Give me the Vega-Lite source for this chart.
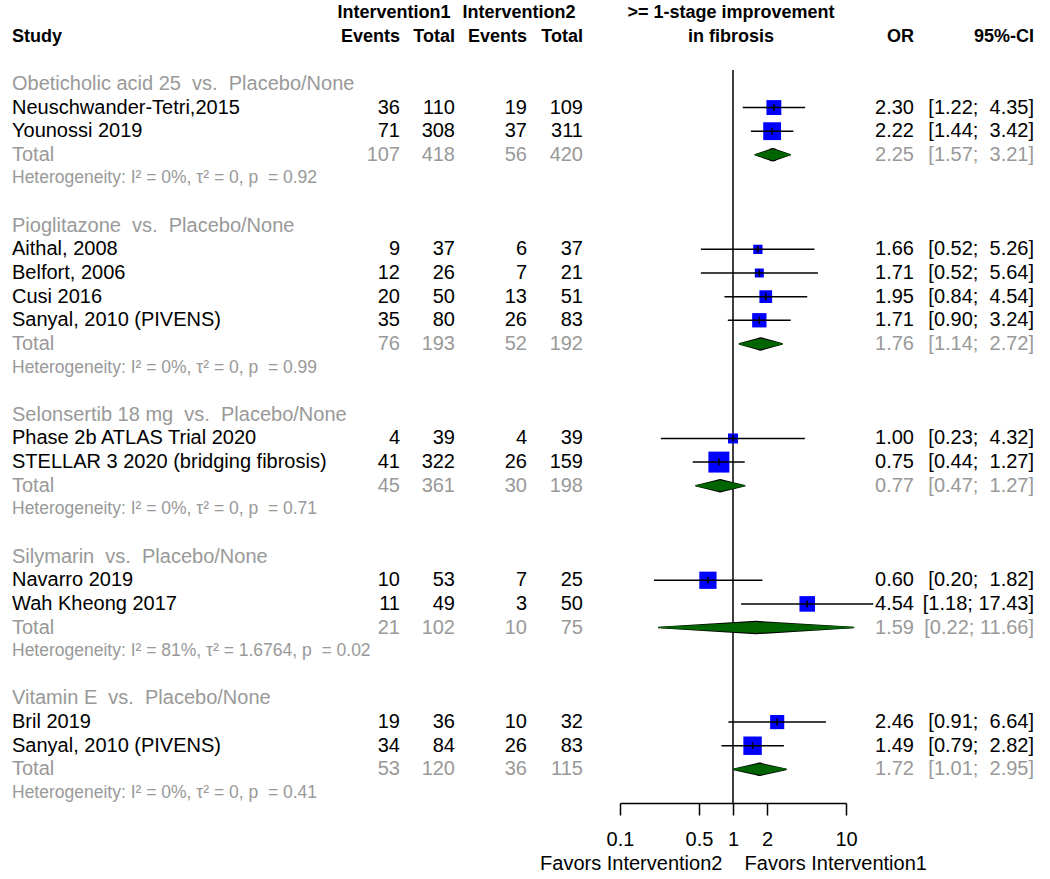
{
  "$schema": "https://vega.github.io/schema/vega-lite/v6.json",
  "width": 1050,
  "height": 803,
  "autosize": {"type": "none"},
  "padding": {"left": 0, "top": 0, "right": 0, "bottom": 76},
  "background": "white",
  "config": {
    "view": {"stroke": null},
    "text": {"font": "Liberation Sans"},
    "axis": {"labelFont": "Liberation Sans", "titleFont": "Liberation Sans"}
  },
  "datasets": {
    "rows": [
      {"id": "obet_head", "kind": "heading", "label": "Obeticholic acid 25\u00a0 vs.\u00a0 Placebo/None"},
      {"id": "obet_1", "kind": "study", "label": "Neuschwander-Tetri,2015", "e1": 36, "n1": 110, "e2": 19, "n2": 109, "or": 2.30, "lo": 1.22, "hi": 4.35, "w": 41},
      {"id": "obet_2", "kind": "study", "label": "Younossi 2019", "e1": 71, "n1": 308, "e2": 37, "n2": 311, "or": 2.22, "lo": 1.44, "hi": 3.42, "w": 59},
      {"id": "obet_tot", "kind": "total", "label": "Total", "e1": 107, "n1": 418, "e2": 56, "n2": 420, "or": 2.25, "lo": 1.57, "hi": 3.21},
      {"id": "obet_het", "kind": "het", "label": "Heterogeneity: I² = 0%, τ² = 0, p\u00a0 = 0.92"},
      {"id": "pio_head", "kind": "heading", "label": "Pioglitazone\u00a0 vs.\u00a0 Placebo/None"},
      {"id": "pio_1", "kind": "study", "label": "Aithal, 2008", "e1": 9, "n1": 37, "e2": 6, "n2": 37, "or": 1.66, "lo": 0.52, "hi": 5.26, "w": 16},
      {"id": "pio_2", "kind": "study", "label": "Belfort, 2006", "e1": 12, "n1": 26, "e2": 7, "n2": 21, "or": 1.71, "lo": 0.52, "hi": 5.64, "w": 15},
      {"id": "pio_3", "kind": "study", "label": "Cusi 2016", "e1": 20, "n1": 50, "e2": 13, "n2": 51, "or": 1.95, "lo": 0.84, "hi": 4.54, "w": 30},
      {"id": "pio_4", "kind": "study", "label": "Sanyal, 2010 (PIVENS)", "e1": 35, "n1": 80, "e2": 26, "n2": 83, "or": 1.71, "lo": 0.90, "hi": 3.24, "w": 38},
      {"id": "pio_tot", "kind": "total", "label": "Total", "e1": 76, "n1": 193, "e2": 52, "n2": 192, "or": 1.76, "lo": 1.14, "hi": 2.72},
      {"id": "pio_het", "kind": "het", "label": "Heterogeneity: I² = 0%, τ² = 0, p\u00a0 = 0.99"},
      {"id": "sel_head", "kind": "heading", "label": "Selonsertib 18 mg\u00a0 vs.\u00a0 Placebo/None"},
      {"id": "sel_1", "kind": "study", "label": "Phase 2b ATLAS Trial 2020", "e1": 4, "n1": 39, "e2": 4, "n2": 39, "or": 1.00, "lo": 0.23, "hi": 4.32, "w": 18.5},
      {"id": "sel_2", "kind": "study", "label": "STELLAR 3 2020 (bridging fibrosis)", "e1": 41, "n1": 322, "e2": 26, "n2": 159, "or": 0.75, "lo": 0.44, "hi": 1.27, "w": 81.5},
      {"id": "sel_tot", "kind": "total", "label": "Total", "e1": 45, "n1": 361, "e2": 30, "n2": 198, "or": 0.77, "lo": 0.47, "hi": 1.27},
      {"id": "sel_het", "kind": "het", "label": "Heterogeneity: I² = 0%, τ² = 0, p\u00a0 = 0.71"},
      {"id": "sil_head", "kind": "heading", "label": "Silymarin\u00a0 vs.\u00a0 Placebo/None"},
      {"id": "sil_1", "kind": "study", "label": "Navarro 2019", "e1": 10, "n1": 53, "e2": 7, "n2": 25, "or": 0.60, "lo": 0.20, "hi": 1.82, "w": 55},
      {"id": "sil_2", "kind": "study", "label": "Wah Kheong 2017", "e1": 11, "n1": 49, "e2": 3, "n2": 50, "or": 4.54, "lo": 1.18, "hi": 17.43, "w": 45},
      {"id": "sil_tot", "kind": "total", "label": "Total", "e1": 21, "n1": 102, "e2": 10, "n2": 75, "or": 1.59, "lo": 0.22, "hi": 11.66},
      {"id": "sil_het", "kind": "het", "label": "Heterogeneity: I² = 81%, τ² = 1.6764, p\u00a0 = 0.02"},
      {"id": "vit_head", "kind": "heading", "label": "Vitamin E\u00a0 vs.\u00a0 Placebo/None"},
      {"id": "vit_1", "kind": "study", "label": "Bril 2019", "e1": 19, "n1": 36, "e2": 10, "n2": 32, "or": 2.46, "lo": 0.91, "hi": 6.64, "w": 37},
      {"id": "vit_2", "kind": "study", "label": "Sanyal, 2010 (PIVENS)", "e1": 34, "n1": 84, "e2": 26, "n2": 83, "or": 1.49, "lo": 0.79, "hi": 2.82, "w": 63},
      {"id": "vit_tot", "kind": "total", "label": "Total", "e1": 53, "n1": 120, "e2": 36, "n2": 115, "or": 1.72, "lo": 1.01, "hi": 2.95},
      {"id": "vit_het", "kind": "het", "label": "Heterogeneity: I² = 0%, τ² = 0, p\u00a0 = 0.41"}
    ],
    "headers": [
      {"id": "hdr1", "key": "grp1", "text": "Intervention1"},
      {"id": "hdr1", "key": "grp2", "text": "Intervention2"},
      {"id": "hdr1", "key": "forest", "text": ">= 1-stage improvement"},
      {"id": "hdr2", "key": "label", "text": "Study"},
      {"id": "hdr2", "key": "e1", "text": "Events"},
      {"id": "hdr2", "key": "n1", "text": "Total"},
      {"id": "hdr2", "key": "e2", "text": "Events"},
      {"id": "hdr2", "key": "n2", "text": "Total"},
      {"id": "hdr2", "key": "forest", "text": "in fibrosis"},
      {"id": "hdr2", "key": "ortx", "text": "OR"},
      {"id": "hdr2", "key": "ci", "text": "95%-CI"}
    ]
  },
  "data": {"name": "rows"},
  "encoding": {
    "y": {
      "field": "id", "type": "nominal",
      "scale": {
        "type": "point",
        "padding": 0,
        "domain": ["hdr1","hdr2","blank0","obet_head","obet_1","obet_2","obet_tot","obet_het","blank1","pio_head","pio_1","pio_2","pio_3","pio_4","pio_tot","pio_het","blank2","sel_head","sel_1","sel_2","sel_tot","sel_het","blank3","sil_head","sil_1","sil_2","sil_tot","sil_het","blank4","vit_head","vit_1","vit_2","vit_tot","vit_het"],
        "range": [13, 793]
      },
      "axis": null
    }
  },
  "layer": [
    {
      "layer": [
        {
          "transform": [
            {"filter": "datum.kind !== 'het'"},
            {"fold": ["label"], "as": ["key", "val"]},
            {"calculate": "indexof(['label','grp1','e1','n1','grp2','e2','n2','forest','ortx','ci'], datum.key)", "as": "col"}
          ],
          "mark": {"type": "text", "align": "left", "baseline": "middle", "fontSize": 20, "font": "Liberation Sans"},
          "encoding": {
            "x": {"field": "col", "type": "quantitative", "scale": {"type": "linear", "domain": [0,1,2,3,4,5,6,7,8,9], "range": [12,394,400,455,519,527,583,731,914,1034], "zero": false, "nice": false}, "axis": null},
            "text": {"field": "val"},
            "color": {"condition": {"test": "datum.kind === 'study'", "value": "black"}, "value": "#999999"}
          }
        },
        {
          "transform": [
            {"filter": "datum.kind === 'het'"},
            {"fold": ["label"], "as": ["key", "val"]},
            {"calculate": "indexof(['label','grp1','e1','n1','grp2','e2','n2','forest','ortx','ci'], datum.key)", "as": "col"}
          ],
          "mark": {"type": "text", "align": "left", "baseline": "middle", "fontSize": 17.5, "font": "Liberation Sans", "color": "#999999"},
          "encoding": {
            "x": {"field": "col", "type": "quantitative", "scale": {"type": "linear", "domain": [0,1,2,3,4,5,6,7,8,9], "range": [12,394,400,455,519,527,583,731,914,1034], "zero": false, "nice": false}, "axis": null},
            "text": {"field": "val"}
          }
        },
        {
          "transform": [
            {"filter": "datum.kind === 'study' || datum.kind === 'total'"},
            {"calculate": "format(datum.or, '.2f')", "as": "ortx"},
            {"calculate": "'[' + format(datum.lo, '.2f') + ';' + (datum.hi < 10 ? '\u00a0\u00a0' : '\u00a0') + format(datum.hi, '.2f') + ']'", "as": "ci"},
            {"fold": ["e1", "n1", "e2", "n2", "ortx", "ci"], "as": ["key", "val"]},
            {"calculate": "indexof(['label','grp1','e1','n1','grp2','e2','n2','forest','ortx','ci'], datum.key)", "as": "col"}
          ],
          "mark": {"type": "text", "align": "right", "baseline": "middle", "fontSize": 20, "font": "Liberation Sans"},
          "encoding": {
            "x": {"field": "col", "type": "quantitative", "scale": {"type": "linear", "domain": [0,1,2,3,4,5,6,7,8,9], "range": [12,394,400,455,519,527,583,731,914,1034], "zero": false, "nice": false}, "axis": null},
            "text": {"field": "val"},
            "color": {"condition": {"test": "datum.kind === 'study'", "value": "black"}, "value": "#999999"}
          }
        },
        {
          "data": {"name": "headers"},
          "transform": [
            {"filter": "datum.key === 'label'"},
            {"calculate": "indexof(['label','grp1','e1','n1','grp2','e2','n2','forest','ortx','ci'], datum.key)", "as": "col"}
          ],
          "mark": {"type": "text", "align": "left", "baseline": "middle", "fontSize": 18, "fontWeight": "bold", "font": "Liberation Sans", "color": "black"},
          "encoding": {
            "x": {"field": "col", "type": "quantitative", "scale": {"type": "linear", "domain": [0,1,2,3,4,5,6,7,8,9], "range": [12,394,400,455,519,527,583,731,914,1034], "zero": false, "nice": false}, "axis": null},
            "text": {"field": "text"}
          }
        },
        {
          "data": {"name": "headers"},
          "transform": [
            {"filter": "datum.key === 'grp1' || datum.key === 'grp2' || datum.key === 'forest'"},
            {"calculate": "indexof(['label','grp1','e1','n1','grp2','e2','n2','forest','ortx','ci'], datum.key)", "as": "col"}
          ],
          "mark": {"type": "text", "align": "center", "baseline": "middle", "fontSize": 18, "fontWeight": "bold", "font": "Liberation Sans", "color": "black"},
          "encoding": {
            "x": {"field": "col", "type": "quantitative", "scale": {"type": "linear", "domain": [0,1,2,3,4,5,6,7,8,9], "range": [12,394,400,455,519,527,583,731,914,1034], "zero": false, "nice": false}, "axis": null},
            "text": {"field": "text"}
          }
        },
        {
          "data": {"name": "headers"},
          "transform": [
            {"filter": "datum.key !== 'label' && datum.key !== 'grp1' && datum.key !== 'grp2' && datum.key !== 'forest'"},
            {"calculate": "indexof(['label','grp1','e1','n1','grp2','e2','n2','forest','ortx','ci'], datum.key)", "as": "col"}
          ],
          "mark": {"type": "text", "align": "right", "baseline": "middle", "fontSize": 18, "fontWeight": "bold", "font": "Liberation Sans", "color": "black"},
          "encoding": {
            "x": {"field": "col", "type": "quantitative", "scale": {"type": "linear", "domain": [0,1,2,3,4,5,6,7,8,9], "range": [12,394,400,455,519,527,583,731,914,1034], "zero": false, "nice": false}, "axis": null},
            "text": {"field": "text"}
          }
        }
      ]
    },
    {
      "data": {"values": [{}]},
      "mark": {"type": "rule", "color": "black", "strokeWidth": 1.5, "yOffset": -14, "y2Offset": 10},
      "encoding": {
        "x": {"datum": 1, "type": "quantitative", "scale": {"type": "log", "domain": [0.1, 10], "range": [620, 846], "nice": false}, "axis": null},
        "y": {"datum": "obet_head", "type": "nominal"},
        "y2": {"datum": "vit_het"}
      }
    },
    {
      "transform": [{"filter": "datum.kind === 'study'"}],
      "mark": {"type": "point", "shape": "square", "filled": true, "color": "#0000ff", "opacity": 1, "strokeWidth": 0},
      "encoding": {
        "x": {"field": "or", "type": "quantitative", "scale": {"type": "log", "domain": [0.1, 10], "range": [620, 846], "nice": false}, "axis": null},
        "size": {"field": "w", "type": "quantitative", "scale": {"domain": [0, 100], "range": [0, 540]}, "legend": null}
      }
    },
    {
      "transform": [{"filter": "datum.kind === 'study'"}],
      "mark": {"type": "rule", "color": "black", "strokeWidth": 1.5},
      "encoding": {
        "x": {
          "field": "lo", "type": "quantitative",
          "scale": {"type": "log", "domain": [0.1, 10], "range": [620, 846], "nice": false},
          "axis": {
            "orient": "bottom",
            "values": [0.1, 0.5, 1, 2, 10],
            "labelExpr": "datum.value + ''",
            "grid": false,
            "tickSize": 12, "tickWidth": 1.5, "tickColor": "black",
            "domainColor": "black", "domainWidth": 1.5,
            "labelFontSize": 20, "labelColor": "black", "labelPadding": 14,
            "labelFlush": false, "labelOverlap": false,
            "title": "Favors Intervention2\u00a0\u00a0\u00a0\u00a0Favors Intervention1",
            "titleFontSize": 20, "titleFontWeight": "normal", "titleColor": "black", "titlePadding": 4
          }
        },
        "x2": {"field": "hi"}
      }
    },
    {
      "transform": [{"filter": "datum.kind === 'study'"}],
      "mark": {"type": "tick", "color": "black", "size": 7, "thickness": 1.5, "opacity": 1},
      "encoding": {
        "x": {"field": "or", "type": "quantitative", "scale": {"type": "log", "domain": [0.1, 10], "range": [620, 846], "nice": false}, "axis": null}
      }
    },
    {
      "transform": [
        {"filter": "datum.kind === 'total'"},
        {"fold": ["lo", "or", "hi"], "as": ["pt", "val"]},
        {"calculate": "datum.pt === 'or' ? 1 : 0", "as": "bulge"}
      ],
      "mark": {"type": "trail", "color": "black", "opacity": 1},
      "encoding": {
        "x": {"field": "val", "type": "quantitative", "scale": {"type": "log", "domain": [0.1, 10], "range": [620, 846], "nice": false}, "axis": null},
        "detail": {"field": "id", "type": "nominal"},
        "size": {"field": "bulge", "type": "quantitative", "scale": {"domain": [0, 1], "range": [1.6, 13.5]}, "legend": null}
      }
    },
    {
      "transform": [
        {"filter": "datum.kind === 'total'"},
        {"fold": ["lo", "or", "hi"], "as": ["pt", "val"]},
        {"calculate": "datum.pt === 'or' ? 1 : 0", "as": "bulge"}
      ],
      "mark": {"type": "trail", "color": "#006400", "opacity": 1},
      "encoding": {
        "x": {"field": "val", "type": "quantitative", "scale": {"type": "log", "domain": [0.1, 10], "range": [620, 846], "nice": false}, "axis": null},
        "detail": {"field": "id", "type": "nominal"},
        "size": {"field": "bulge", "type": "quantitative", "scale": {"domain": [0, 1], "range": [0, 11]}, "legend": null}
      }
    }
  ],
  "resolve": {"scale": {"x": "independent", "size": "independent"}}
}
